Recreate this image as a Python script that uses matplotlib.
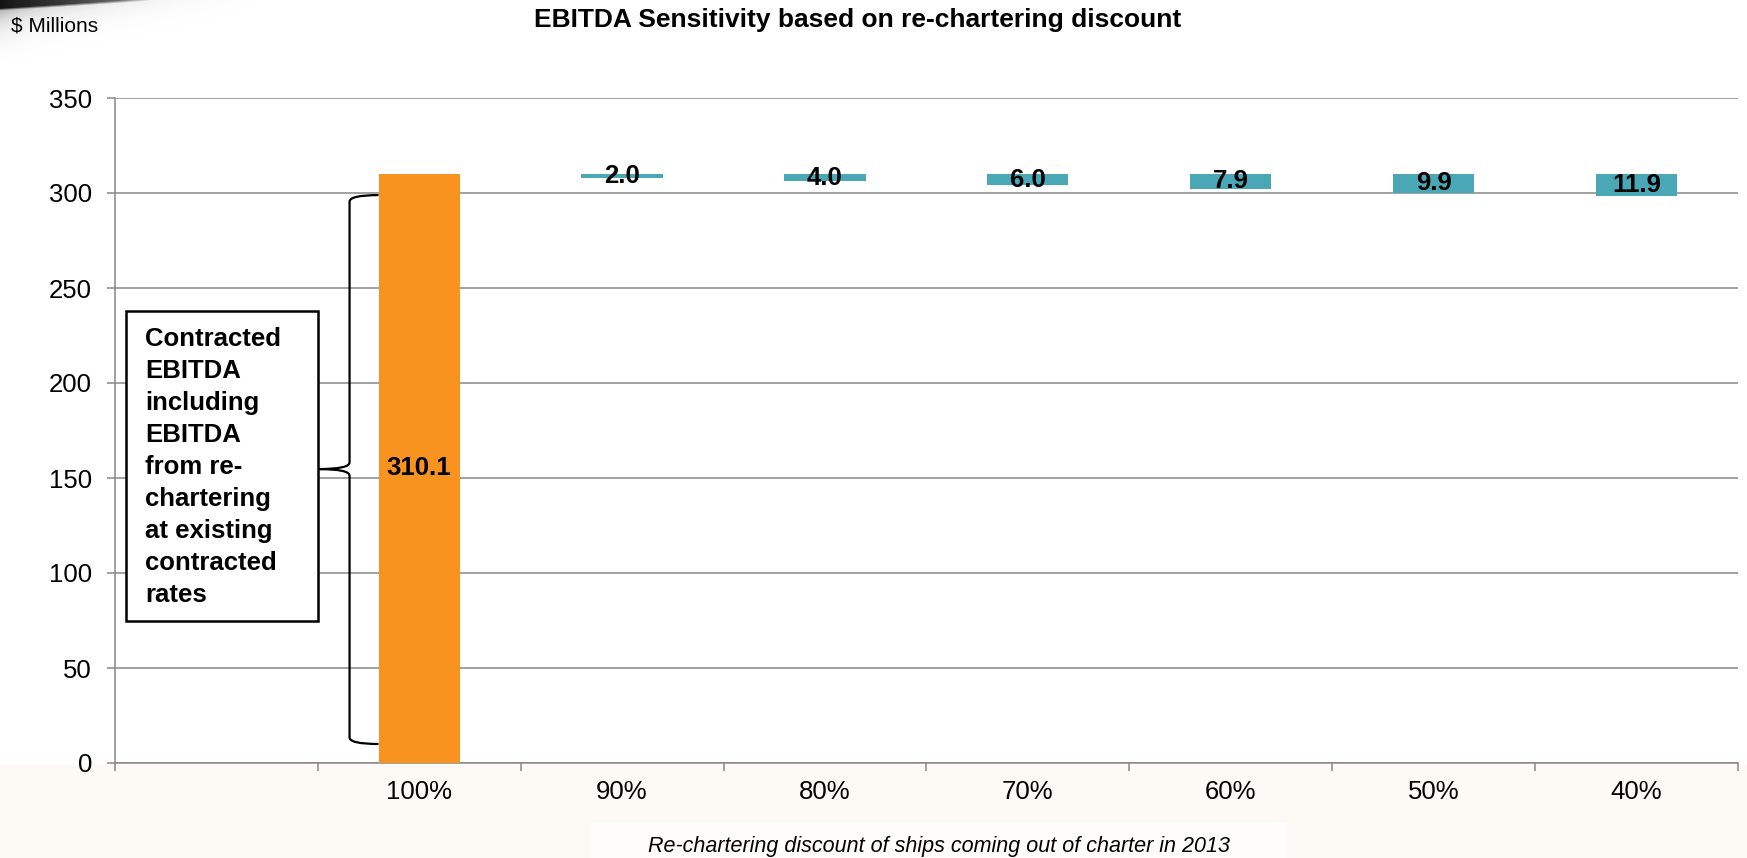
import numpy as np
import matplotlib
matplotlib.use('Agg')
import matplotlib.pyplot as plt
from matplotlib.path import Path
from matplotlib.patches import PathPatch, Rectangle

plt.rcParams['font.family'] = ['Liberation Sans', 'DejaVu Sans']

# data
categories = ['', '100%', '90%', '80%', '70%', '60%', '50%', '40%']
contracted = 310.1
drops = [2.0, 4.0, 6.0, 7.9, 9.9, 11.9]
box_lines = ['Contracted', 'EBITDA', 'including', 'EBITDA', 'from re-',
             'chartering', 'at existing', 'contracted', 'rates']

orange = '#F7931E'
teal = '#4AA7B5'
grid_gray = '#878787'

fig = plt.figure(figsize=(17.47, 8.58), dpi=100)

# faint peach band under the plot + lighter box behind the axis title
fig.patches.append(Rectangle((0, 0), 1, 0.108, transform=fig.transFigure,
                             color='#FDF9F5', zorder=0))
fig.patches.append(Rectangle((0.338, 0), 0.398, 0.041, transform=fig.transFigure,
                             color='#FFFDFB', zorder=0))

# grey swoosh in the top-left corner
W, H = 320, 85
sw = fig.add_axes([0, 1 - H / 858, W / 1747, H / 858], zorder=0)
xx, yy = np.meshgrid(np.arange(W), np.arange(H))
thick = 10 * np.clip(1 - xx / 150, 0, 1)
d1 = np.clip((thick - yy) / 3 + 0.3, 0, 1) * np.clip(1 - xx / 150, 0, 1) ** 0.3
d2 = 0.38 * np.exp(-yy / 18) * np.exp(-xx / 130)
d3 = 0.22 * np.exp(-xx / 30) * np.exp(-yy / 30)
window = (1 - xx / (W - 1)) ** 1.5 * (1 - yy / (H - 1)) ** 1.5
alpha = np.clip(np.maximum(d1, (d2 + d3) * window), 0, 1)
rgba = np.zeros((H, W, 4))
rgba[..., :3] = 0.08
rgba[..., 3] = alpha
sw.imshow(rgba, aspect='auto', interpolation='bilinear')
sw.axis('off')

ax = fig.add_axes([114.8 / 1747, 95 / 858, 1623.2 / 1747, 665 / 858], zorder=1)
ax.patch.set_alpha(0)

x = np.arange(len(categories))
ax.bar(x[1], contracted, width=0.4, color=orange, zorder=3)
bottoms = [contracted - d for d in drops]
ax.bar(x[2:], drops, bottom=bottoms, width=0.4, color=teal, zorder=3)

ax.text(x[1], contracted / 2, f'{contracted:.1f}', ha='center', va='center',
        fontsize=18.5, fontweight='bold', zorder=5)
for xi, b, d in zip(x[2:], bottoms, drops):
    ax.text(xi, b + d / 2, f'{d:.1f}', ha='center', va='center',
            fontsize=18.5, fontweight='bold', zorder=5)

ax.set_xlim(-0.5, len(categories) - 0.5)
ax.set_ylim(0, 350)
ax.set_yticks(np.arange(0, 351, 50))
ax.yaxis.grid(True, color=grid_gray, linewidth=1.1, zorder=0)
ax.set_axisbelow(True)

ax.set_xticks(np.arange(-0.5, len(categories), 1))
ax.set_xticklabels([''] * (len(categories) + 1))
ax.set_xticks(x, minor=True)
ax.set_xticklabels(categories, minor=True, fontsize=18.5)
ax.tick_params(axis='x', which='major', length=5.5, width=1.1, color=grid_gray)
ax.tick_params(axis='x', which='minor', length=0, pad=12)
ax.tick_params(axis='y', length=5.5, width=1.1, color=grid_gray, labelsize=18.5, pad=11)

for s in ['top', 'right']:
    ax.spines[s].set_visible(False)
for s in ['left', 'bottom']:
    ax.spines[s].set_color(grid_gray)
    ax.spines[s].set_linewidth(1.1)

# curly brace next to the orange bar
xr, xv, xm = 0.8, 0.657, 0.503
ytop, ybot, ymid = 298.9, 10.0, 154.7
verts = [(xr, ytop), (xv, ytop), (xv, ytop - 3.5),
         (xv, ymid + 3.5), (xv, ymid), (xm, ymid),
         (xv, ymid), (xv, ymid - 3.5),
         (xv, ybot + 3.5), (xv, ybot), (xr, ybot)]
codes = [Path.MOVETO, Path.CURVE3, Path.CURVE3,
         Path.LINETO, Path.CURVE3, Path.CURVE3,
         Path.CURVE3, Path.CURVE3,
         Path.LINETO, Path.CURVE3, Path.CURVE3]
ax.add_patch(PathPatch(Path(verts, codes), fill=False, lw=1.6, color='black', zorder=4))

# text box
ax.add_patch(Rectangle((-0.446, 75), 0.949, 163, facecolor='white',
                       edgecolor='black', lw=1.8, zorder=4))
for i, line in enumerate(box_lines):
    ax.text(-0.35, 219.5 - i * 16.84, line, ha='left', va='baseline',
            fontsize=18.5, fontweight='bold', zorder=5)

fig.text(0.491, 0.9767, 'EBITDA Sensitivity based on re-chartering discount',
         ha='center', va='center', fontsize=19, fontweight='bold')
fig.text(0.0063, 0.970, '$ Millions', ha='left', va='center', fontsize=15)
fig.text(0.5375, 0.0135, 'Re-chartering discount of ships coming out of charter in 2013',
         ha='center', va='center', fontsize=15.5, style='italic')

fig.savefig('out.png', dpi=100)
